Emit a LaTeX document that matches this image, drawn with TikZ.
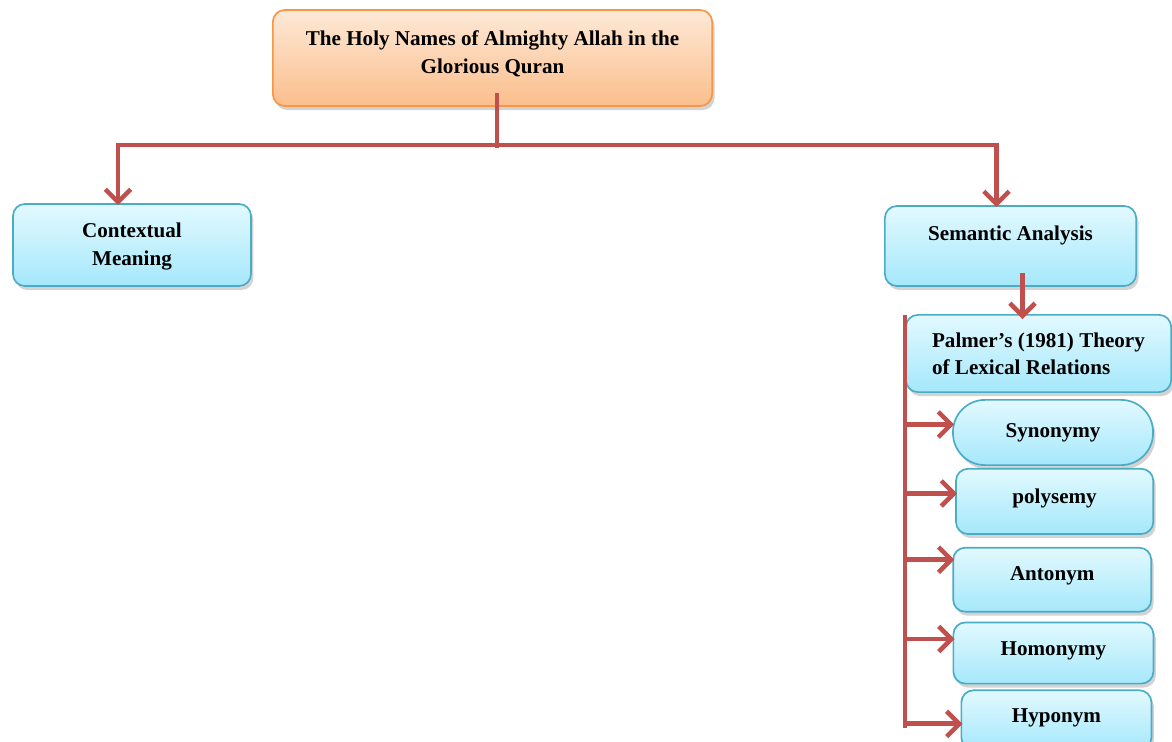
\documentclass[tikz,border=0pt]{standalone}
\usepackage{fontspec}
\setmainfont{Liberation Serif}
\usetikzlibrary{
        arrows.meta,
        calc,
        positioning,
        shadows
    }
\definecolor{linkred}{RGB}{192,80,77}
\definecolor{boxedge}{RGB}{75,172,198}
\definecolor{boxtop}{RGB}{226,249,255}
\definecolor{boxbot}{RGB}{165,232,251}
\definecolor{titleedge}{RGB}{247,150,70}
\definecolor{titletop}{RGB}{253,233,215}
\definecolor{titlebot}{RGB}{251,190,140}
\tikzset{>={Straight Barb[length=9pt,width=18pt,line width=3.2pt]},node distance=0.2cm}
\tikzset{
    box/.style={draw=boxedge, line width=1.2pt, rounded corners=0.3cm,
        top color=boxtop, bottom color=boxbot, align=center, inner sep=2pt,
        font=\bfseries\fontsize{15}{19.5}\selectfont,
        drop shadow={shadow xshift=0.06cm, shadow yshift=-0.1cm, opacity=0.35}},
    titlebox/.style={box, draw=titleedge, top color=titletop, bottom color=titlebot},
    conn/.style={draw=linkred, line width=3.5pt}
}

\begin{document}
\begin{tikzpicture}[x=0.025cm, y=-0.025cm]
    \useasboundingbox (0,0) rectangle (1172,742);
    % boxes
    \node[titlebox, minimum width=10.98cm, minimum height=2.4cm, text depth=8.5pt]
        (names) at (492.5,58) {The Holy Names of Almighty Allah in the\\Glorious Quran};
    \node[box, minimum width=5.95cm, minimum height=2.05cm, text depth=1pt]
        (ctx) at (132,245) {Contextual\\Meaning};
    \node[box, minimum width=6.28cm, minimum height=2cm, text depth=18pt]
        (sem) at (1010.5,246) {Semantic Analysis};
    \node[box, minimum width=6.63cm, minimum height=1.93cm, align=left]
        (palmer) at (1038.5,353.5) {Palmer’s (1981) Theory\\of Lexical Relations};
    \node[box, minimum width=5cm, minimum height=1.63cm, rounded corners=0.8cm]
        (syn) at (1053,432.5) {Synonymy};
    \node[box, minimum width=4.93cm, minimum height=1.63cm, text depth=7pt]
        (poly) [below=0.05cm of syn, xshift=0.04cm] {polysemy};
    \node[box, minimum width=4.95cm, minimum height=1.6cm, text depth=9pt]
        (ant) [below=0.3cm of poly, xshift=-0.06cm] {Antonym};
    \node[box, minimum width=5cm, minimum height=1.53cm, text depth=7pt]
        (hom) [below=0.225cm of ant, xshift=0.03cm] {Homonymy};
    \node[box, minimum width=4.75cm, minimum height=1.48cm, text depth=5.5pt]
        (hyp) [below=0.125cm of hom, xshift=0.075cm] {Hyponym};
    % connectors
    \coordinate (stem) at (497,93);
    \coordinate (hub) at (497,145);
    \coordinate (bus) at (905,315);
    \coordinate (busend) at (905,728);
    \draw[conn] (stem) -- ($(hub)+(0,3)$);
    \draw[conn] ($(hub)+(-379,0)$) -- ($(hub)+(499,0)$);
    \draw[conn,->] (hub) -| ($(ctx.north)+(-14,2)$);
    \draw[conn,->] (hub) -| ($(sem.north)+(-14,2)$);
    \draw[conn,->] ($(sem.south)+(12,-14)$) -- ($(palmer.north)+(-16,5)$);
    \draw[conn] (bus) -- (busend);
    \foreach \n/\dy in {syn/-8, poly/-8, ant/-20, hom/-14, hyp/4} {
        \coordinate (tip) at ($(\n.west)+(2,\dy)$);
        \draw[conn,->] (bus |- tip) -- (tip);
    }
\end{tikzpicture}
\end{document}
